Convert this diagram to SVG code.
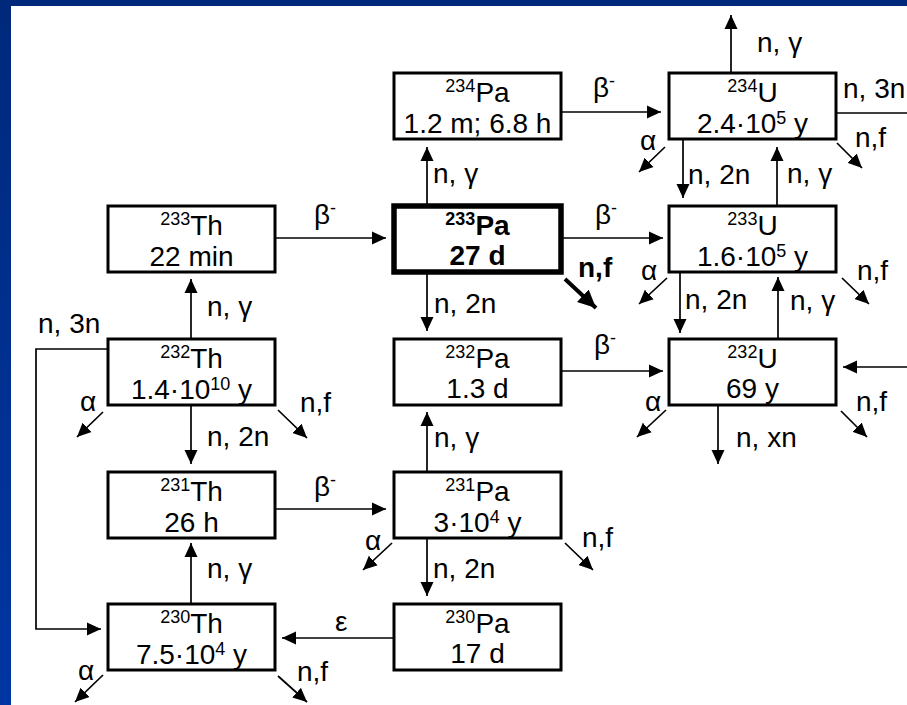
<svg xmlns="http://www.w3.org/2000/svg" width="907" height="705" viewBox="0 0 907 705">
<defs>
<linearGradient id="lb" x1="0" y1="0" x2="0" y2="1">
<stop offset="0" stop-color="#00297b"/>
<stop offset="1" stop-color="#0036a3"/>
</linearGradient>
<marker id="ah" viewBox="0 0 14 14" refX="14" refY="7" markerWidth="14" markerHeight="14" markerUnits="userSpaceOnUse" orient="auto">
<path d="M0,0.5 L14,7 L0,13.5 z" fill="#000"/>
</marker>
<marker id="ahb" viewBox="0 0 18 18" refX="18" refY="9" markerWidth="18" markerHeight="18" markerUnits="userSpaceOnUse" orient="auto">
<path d="M0,0.5 L18,9 L0,17.5 z" fill="#000"/>
</marker>
</defs>
<style>
text{font-family:"Liberation Sans",Arial,sans-serif;font-size:28px;fill:#000}
.c text{text-anchor:middle}
.sup{font-size:18px}
.box{fill:#fff;stroke:#000;stroke-width:3}
.bold{stroke-width:5.5}
.cn path{fill:none;stroke:#000;stroke-width:1.7;marker-end:url(#ah)}
.cn path.nb{marker-end:none}
.cn path.bf{stroke-width:4;marker-end:url(#ahb)}
</style>
<rect x="0" y="0" width="907" height="705" fill="#fff"/>
<rect x="0" y="0" width="907" height="6" fill="#00297b"/>
<rect x="0" y="0" width="11" height="705" fill="url(#lb)"/>

<g id="connectors" class="cn">
<path d="M275,238 H386"/>
<path d="M561,238 H663"/>
<path d="M561,112 H661"/>
<path d="M561,371 H663"/>
<path d="M275,509 H386"/>
<path d="M394,638 H282"/>
<path d="M108,349 H36 V629 H101"/>
<path d="M191,339 V279"/>
<path d="M191,405 V464"/>
<path d="M191,604 V543"/>
<path d="M427,206 V147"/>
<path d="M427,272 V331"/>
<path d="M427,472 V412"/>
<path d="M427,539 V596"/>
<path d="M731,73 V15"/>
<path d="M683,139 V198"/>
<path d="M777,206 V147"/>
<path d="M680,272 V333"/>
<path d="M778,339 V277"/>
<path d="M718,405 V464"/>
<path class="nb" d="M836,113 H907"/>
<path d="M907,367 H843"/>
<path d="M665,147 L639,172"/>
<path d="M837,143 L862,168"/>
<path d="M667,278 L639,304"/>
<path d="M842,278 L869,304"/>
<path d="M666,410 L637,437"/>
<path d="M841,411 L867,437"/>
<path class="bf" d="M565,279 L596,308"/>
<path d="M103,412 L77,437"/>
<path d="M278,410 L307,438"/>
<path d="M392,543 L363,570"/>
<path d="M565,543 L593,570"/>
<path d="M103,675 L75,702"/>
<path d="M278,676 L307,702"/>
</g>

<g id="labels">
<text x="757" y="52">n, γ</text>
<text x="843" y="98">n, 3n</text>
<text x="593" y="97">β<tspan class="sup" dy="-10">-</tspan></text>
<text x="640" y="150">α</text>
<text x="855" y="147">n,f</text>
<text x="688" y="184">n, 2n</text>
<text x="787" y="183">n, γ</text>
<text x="433" y="183">n, γ</text>
<text x="314" y="224">β<tspan class="sup" dy="-10">-</tspan></text>
<text x="595" y="224">β<tspan class="sup" dy="-10">-</tspan></text>
<text x="578" y="277" font-weight="bold">n,f</text>
<text x="641" y="280">α</text>
<text x="857" y="280">n,f</text>
<text x="434" y="313">n, 2n</text>
<text x="685" y="309">n, 2n</text>
<text x="790" y="310">n, γ</text>
<text x="207" y="316">n, γ</text>
<text x="38" y="333">n, 3n</text>
<text x="594" y="354">β<tspan class="sup" dy="-10">-</tspan></text>
<text x="80" y="411">α</text>
<text x="300" y="412">n,f</text>
<text x="645" y="411">α</text>
<text x="856" y="411">n,f</text>
<text x="207" y="446">n, 2n</text>
<text x="434" y="447">n, γ</text>
<text x="736" y="447">n, xn</text>
<text x="314" y="496">β<tspan class="sup" dy="-10">-</tspan></text>
<text x="365" y="550">α</text>
<text x="582" y="547">n,f</text>
<text x="433" y="578">n, 2n</text>
<text x="207" y="578">n, γ</text>
<text x="335" y="631">ε</text>
<text x="78" y="680">α</text>
<text x="297" y="681">n,f</text>
</g>

<g id="th233" class="c"><rect class="box" x="108" y="206" width="167" height="66"/>
<text x="191.5" y="235"><tspan class="sup" dy="-10">233</tspan><tspan dy="10">Th</tspan></text>
<text x="191.5" y="266">22 min</text></g>
<g id="th232" class="c"><rect class="box" x="108" y="339" width="167" height="66"/>
<text x="191.5" y="368"><tspan class="sup" dy="-10">232</tspan><tspan dy="10">Th</tspan></text>
<text x="191.5" y="399">1.4·10<tspan class="sup" dy="-9">10</tspan><tspan dy="9"> y</tspan></text></g>
<g id="th231" class="c"><rect class="box" x="108" y="472" width="167" height="66"/>
<text x="191.5" y="501"><tspan class="sup" dy="-10">231</tspan><tspan dy="10">Th</tspan></text>
<text x="191.5" y="532">26 h</text></g>
<g id="th230" class="c"><rect class="box" x="108" y="604" width="167" height="66"/>
<text x="191.5" y="633"><tspan class="sup" dy="-10">230</tspan><tspan dy="10">Th</tspan></text>
<text x="191.5" y="664">7.5·10<tspan class="sup" dy="-9">4</tspan><tspan dy="9"> y</tspan></text></g>

<g id="pa234" class="c"><rect class="box" x="394" y="73" width="167" height="66"/>
<text x="477.5" y="102"><tspan class="sup" dy="-10">234</tspan><tspan dy="10">Pa</tspan></text>
<text x="477.5" y="133">1.2 m; 6.8 h</text></g>
<g id="pa233" class="c"><rect class="box bold" x="394" y="206" width="167" height="66"/>
<text x="477.5" y="235" font-weight="bold"><tspan class="sup" dy="-10">233</tspan><tspan dy="10">Pa</tspan></text>
<text x="477.5" y="265" font-weight="bold">27 d</text></g>
<g id="pa232" class="c"><rect class="box" x="394" y="339" width="167" height="66"/>
<text x="477.5" y="368"><tspan class="sup" dy="-10">232</tspan><tspan dy="10">Pa</tspan></text>
<text x="477.5" y="398">1.3 d</text></g>
<g id="pa231" class="c"><rect class="box" x="394" y="472" width="167" height="66"/>
<text x="477.5" y="501"><tspan class="sup" dy="-10">231</tspan><tspan dy="10">Pa</tspan></text>
<text x="477.5" y="532">3·10<tspan class="sup" dy="-9">4</tspan><tspan dy="9"> y</tspan></text></g>
<g id="pa230" class="c"><rect class="box" x="394" y="604" width="167" height="66"/>
<text x="477.5" y="633"><tspan class="sup" dy="-10">230</tspan><tspan dy="10">Pa</tspan></text>
<text x="477.5" y="663">17 d</text></g>

<g id="u234" class="c"><rect class="box" x="669" y="73" width="167" height="66"/>
<text x="752.5" y="102"><tspan class="sup" dy="-10">234</tspan><tspan dy="10">U</tspan></text>
<text x="752.5" y="133">2.4·10<tspan class="sup" dy="-9">5</tspan><tspan dy="9"> y</tspan></text></g>
<g id="u233" class="c"><rect class="box" x="669" y="206" width="167" height="66"/>
<text x="752.5" y="235"><tspan class="sup" dy="-10">233</tspan><tspan dy="10">U</tspan></text>
<text x="752.5" y="266">1.6·10<tspan class="sup" dy="-9">5</tspan><tspan dy="9"> y</tspan></text></g>
<g id="u232" class="c"><rect class="box" x="669" y="339" width="167" height="66"/>
<text x="752.5" y="368"><tspan class="sup" dy="-10">232</tspan><tspan dy="10">U</tspan></text>
<text x="752.5" y="398">69 y</text></g>
</svg>
